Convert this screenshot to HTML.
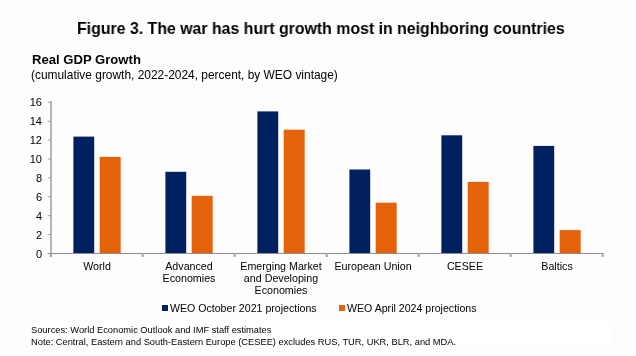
<!DOCTYPE html>
<html><head><meta charset="utf-8"><style>
html,body{margin:0;padding:0;}
div{will-change:transform;}
body{width:636px;height:356px;background:#fdfdfd;position:relative;overflow:hidden;font-family:"Liberation Sans",sans-serif;color:#000;}
.t{position:absolute;white-space:nowrap;line-height:1;}
#title{left:76.6px;top:19.5px;font-size:16.5px;font-weight:bold;transform:scaleX(0.962);transform-origin:0 0;}
#sub1{left:31.6px;top:52.8px;font-size:13.1px;font-weight:bold;}
#sub2{left:30.8px;top:69.6px;font-size:11.93px;}
.lab{position:absolute;font-size:10.7px;line-height:12px;text-align:center;width:92px;}
#notes{position:absolute;left:26px;top:322px;width:587px;height:23px;background:#fff;}
.note{position:absolute;left:30.5px;font-size:9.3px;white-space:nowrap;line-height:1;}
.leg{position:absolute;font-size:10.6px;white-space:nowrap;line-height:1;}
.sq{position:absolute;width:6px;height:6px;}
svg{position:absolute;left:0;top:0;}
svg text{font-family:"Liberation Sans",sans-serif;font-size:11px;fill:#000;}
</style></head><body>
<div id="notes"></div>
<div class="t" id="title">Figure 3. The war has hurt growth most in neighboring countries</div>
<div class="t" id="sub1">Real GDP Growth</div>
<div class="t" id="sub2">(cumulative growth, 2022-2024, percent, by WEO vintage)</div>
<svg width="636" height="356" viewBox="0 0 636 356">
<rect x="73.4" y="136.6" width="20.8" height="117.4" fill="#00205F"/>
<rect x="99.7" y="156.9" width="21" height="97.1" fill="#E4620A"/>
<rect x="165.4" y="171.8" width="20.8" height="82.2" fill="#00205F"/>
<rect x="191.7" y="195.8" width="21" height="58.2" fill="#E4620A"/>
<rect x="257.4" y="111.4" width="20.8" height="142.6" fill="#00205F"/>
<rect x="283.7" y="129.7" width="21" height="124.3" fill="#E4620A"/>
<rect x="349.4" y="169.5" width="20.8" height="84.5" fill="#00205F"/>
<rect x="375.7" y="202.7" width="21" height="51.3" fill="#E4620A"/>
<rect x="441.4" y="135.3" width="20.8" height="118.7" fill="#00205F"/>
<rect x="467.7" y="181.9" width="21" height="72.1" fill="#E4620A"/>
<rect x="533.4" y="145.9" width="20.8" height="108.1" fill="#00205F"/>
<rect x="559.7" y="230.1" width="21" height="23.9" fill="#E4620A"/>
<line x1="51" y1="101" x2="51" y2="257" stroke="#b4b4b4" stroke-width="2"/>
<line x1="47.8" y1="253.5" x2="51" y2="253.5" stroke="#a0a0a0" stroke-width="1"/>
<text x="42" y="257.6" text-anchor="end">0</text>
<line x1="47.8" y1="234.6" x2="51" y2="234.6" stroke="#a0a0a0" stroke-width="1"/>
<text x="42" y="238.7" text-anchor="end">2</text>
<line x1="47.8" y1="215.7" x2="51" y2="215.7" stroke="#a0a0a0" stroke-width="1"/>
<text x="42" y="219.8" text-anchor="end">4</text>
<line x1="47.8" y1="196.8" x2="51" y2="196.8" stroke="#a0a0a0" stroke-width="1"/>
<text x="42" y="200.9" text-anchor="end">6</text>
<line x1="47.8" y1="177.9" x2="51" y2="177.9" stroke="#a0a0a0" stroke-width="1"/>
<text x="42" y="182.0" text-anchor="end">8</text>
<line x1="47.8" y1="159.0" x2="51" y2="159.0" stroke="#a0a0a0" stroke-width="1"/>
<text x="42" y="163.1" text-anchor="end">10</text>
<line x1="47.8" y1="140.1" x2="51" y2="140.1" stroke="#a0a0a0" stroke-width="1"/>
<text x="42" y="144.2" text-anchor="end">12</text>
<line x1="47.8" y1="121.2" x2="51" y2="121.2" stroke="#a0a0a0" stroke-width="1"/>
<text x="42" y="125.3" text-anchor="end">14</text>
<line x1="47.8" y1="102.3" x2="51" y2="102.3" stroke="#a0a0a0" stroke-width="1"/>
<text x="42" y="106.4" text-anchor="end">16</text>
<line x1="47.8" y1="253.5" x2="603" y2="253.5" stroke="#8c8c8c" stroke-width="1"/>
<line x1="50.7" y1="253" x2="50.7" y2="257" stroke="#a4a4a4" stroke-width="2"/>
<line x1="142.7" y1="253" x2="142.7" y2="257" stroke="#a4a4a4" stroke-width="2"/>
<line x1="234.7" y1="253" x2="234.7" y2="257" stroke="#a4a4a4" stroke-width="2"/>
<line x1="326.7" y1="253" x2="326.7" y2="257" stroke="#a4a4a4" stroke-width="2"/>
<line x1="418.7" y1="253" x2="418.7" y2="257" stroke="#a4a4a4" stroke-width="2"/>
<line x1="510.7" y1="253" x2="510.7" y2="257" stroke="#a4a4a4" stroke-width="2"/>
<line x1="602.7" y1="253" x2="602.7" y2="257" stroke="#a4a4a4" stroke-width="2"/>
</svg>
<div class="lab" style="left:50.7px;top:260px">World</div>
<div class="lab" style="left:142.7px;top:260px">Advanced<br>Economies</div>
<div class="lab" style="left:234.7px;top:260px">Emerging Market<br>and Developing<br>Economies</div>
<div class="lab" style="left:326.7px;top:260px">European Union</div>
<div class="lab" style="left:418.7px;top:260px">CESEE</div>
<div class="lab" style="left:510.7px;top:260px">Baltics</div>
<div class="sq" style="left:162px;top:305px;background:#00205F"></div>
<div class="leg" style="left:170px;top:303px">WEO October 2021 projections</div>
<div class="sq" style="left:339px;top:305px;background:#E4620A"></div>
<div class="leg" style="left:347px;top:303px">WEO April 2024 projections</div>
<div class="note" style="top:326.2px">Sources: World Economic Outlook and IMF staff estimates</div>
<div class="note" style="top:337.9px">Note: Central, Eastern and South-Eastern Europe (CESEE) excludes RUS, TUR, UKR, BLR, and MDA.</div>
</body></html>
